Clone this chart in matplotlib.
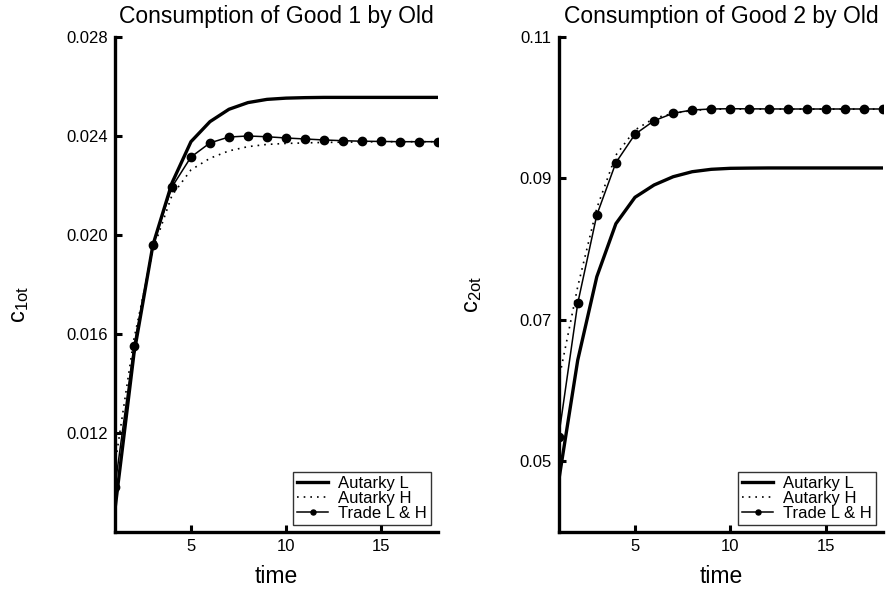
import matplotlib
matplotlib.use("Agg")
import matplotlib.pyplot as plt
import numpy as np

plt.rcParams['font.family'] = ['Liberation Sans', 'DejaVu Sans']
plt.rcParams['mathtext.fontset'] = 'custom'
plt.rcParams['mathtext.rm'] = 'Liberation Sans'

# time periods
time = np.arange(1, 19)

# good 1, consumption by the old
good1_autarky_L = [0.0089, 0.0152, 0.0196, 0.0221, 0.02377, 0.02458, 0.02508, 0.02535, 0.02548,
                   0.02553, 0.02555, 0.02556, 0.02556, 0.02556, 0.02556, 0.02556, 0.02556, 0.02556]
good1_autarky_H = [0.0107, 0.0158, 0.0194, 0.0216, 0.02263, 0.0231, 0.0234, 0.02357, 0.02366,
                   0.0237, 0.02372, 0.02374, 0.02375, 0.02376, 0.02377, 0.02377, 0.02377, 0.02377]
good1_trade = [0.00982, 0.01552, 0.0196, 0.02194, 0.02315, 0.02372, 0.02396, 0.0240, 0.02397,
               0.02392, 0.02388, 0.02384, 0.02381, 0.02379, 0.02378, 0.02377, 0.02377, 0.02377]

# good 2, consumption by the old
good2_autarky_L = [0.0472, 0.0643, 0.0761, 0.0836, 0.08733, 0.08907, 0.09024, 0.09095, 0.09129,
                   0.09143, 0.09146, 0.09148, 0.09148, 0.09148, 0.09148, 0.09148, 0.09148, 0.09148]
good2_autarky_H = [0.0614, 0.0747, 0.0858, 0.0933, 0.09685, 0.0985, 0.0992, 0.0996, 0.0998,
                   0.0998, 0.0998, 0.0998, 0.0998, 0.0998, 0.0998, 0.0998, 0.0998, 0.0998]
good2_trade = [0.05348, 0.07234, 0.08483, 0.09223, 0.09624, 0.09816, 0.09921, 0.09968, 0.09982,
               0.09986, 0.09984, 0.09983, 0.09982, 0.09982, 0.09982, 0.09982, 0.09982, 0.09982]

legend_labels = ['Autarky L', 'Autarky H', 'Trade L & H']


def draw_panel(ax, L, H, trade, title, ylab, ylim, yticks, ytick_labels, ylab_x, ylab_y):
    ax.plot(time, L, '-', color='black', linewidth=2.4, label=legend_labels[0])
    ax.plot(time, H, color='black', linewidth=1.2, linestyle=(0, (1, 3)), label=legend_labels[1])
    ax.plot(time, trade, '-', color='black', linewidth=1.1, marker='o', markersize=6,
            label=legend_labels[2])

    ax.set_xlim(1, 18)
    ax.set_ylim(*ylim)
    ax.set_xticks([5, 10, 15])
    ax.set_yticks(yticks)
    ax.set_yticklabels(ytick_labels)
    ax.tick_params(direction='in', length=5, width=2.2, labelsize=12, pad=5)

    for side in ['top', 'right']:
        ax.spines[side].set_visible(False)
    for side in ['left', 'bottom']:
        ax.spines[side].set_linewidth(2.4)

    ax.set_title(title, fontsize=16.5, pad=10)
    ax.set_xlabel('time', fontsize=16.5, labelpad=8)
    ax.set_ylabel(ylab, fontsize=17)
    ax.yaxis.set_label_coords(ylab_x, ylab_y)

    leg = ax.legend(loc='lower right', fontsize=12, frameon=True, fancybox=False,
                    edgecolor='black', labelspacing=0.0, borderpad=0.25, markerscale=0.6,
                    handlelength=1.9, handletextpad=0.6, borderaxespad=0.4)
    leg.get_frame().set_linewidth(1.0)


fig = plt.figure(figsize=(8.91, 5.94), dpi=100)
ax1 = fig.add_axes([0.129, 0.1044, 0.3626, 0.8333])
ax2 = fig.add_axes([0.627, 0.1044, 0.364, 0.8333])

draw_panel(ax1, good1_autarky_L, good1_autarky_H, good1_trade,
           'Consumption of Good 1 by Old', r'$\mathrm{c_{1ot}}$',
           (0.008, 0.028), [0.012, 0.016, 0.020, 0.024, 0.028],
           ['0.012', '0.016', '0.020', '0.024', '0.028'], -0.26, 0.46)
draw_panel(ax2, good2_autarky_L, good2_autarky_H, good2_trade,
           'Consumption of Good 2 by Old', r'$\mathrm{c_{2ot}}$',
           (0.04, 0.11), [0.05, 0.07, 0.09, 0.11],
           ['0.05', '0.07', '0.09', '0.11'], -0.23, 0.48)

fig.savefig('out.png', dpi=100)
